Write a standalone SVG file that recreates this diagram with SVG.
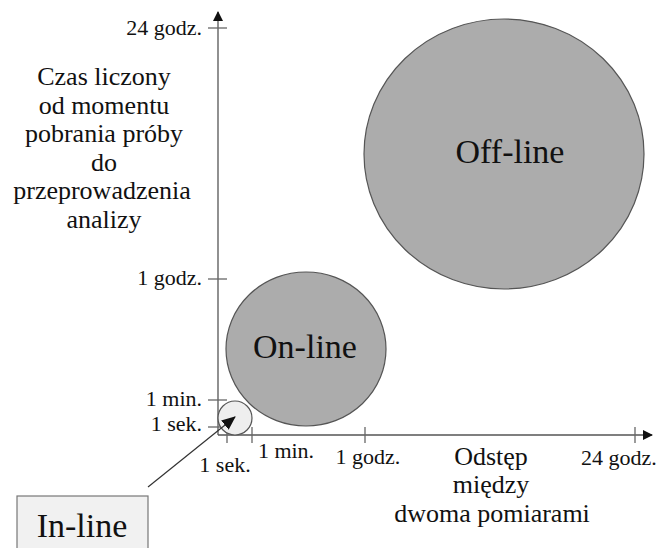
<svg xmlns="http://www.w3.org/2000/svg" width="659" height="548" viewBox="0 0 659 548">
<style>
text{font-family:"Liberation Serif","Times New Roman",serif;fill:#111}
.ax{stroke:#555;stroke-width:1.3;fill:none}
.tk{stroke:#666;stroke-width:1.3}
.lbl{font-size:22px}
.big{font-size:26px;text-anchor:middle}
.node{font-size:34px;text-anchor:middle}
.bubble{fill:#acacac;stroke:#555;stroke-width:1.2}
</style>
<defs>
<marker id="ah" markerWidth="10" markerHeight="10" refX="9" refY="5" orient="auto" markerUnits="userSpaceOnUse"><path d="M0,0 L10,5 L0,10 Z" fill="#111"/></marker>
<marker id="ptr" markerWidth="14" markerHeight="12" refX="13" refY="6" orient="auto" markerUnits="userSpaceOnUse"><path d="M0,0 L14,6 L0,12 Z" fill="#111"/></marker>
</defs>
<rect width="659" height="548" fill="#fff"/>
<g id="axes">
<line class="ax" x1="218" y1="435" x2="218" y2="12" marker-end="url(#ah)"/>
<line class="ax" x1="218" y1="435" x2="652" y2="435" marker-end="url(#ah)"/>
<line class="tk" x1="208" y1="28" x2="227" y2="28"/>
<line class="tk" x1="208" y1="279" x2="227" y2="279"/>
<line class="tk" x1="208" y1="400" x2="227" y2="400"/>
<line class="tk" x1="208" y1="427" x2="227" y2="427"/>
<line class="tk" x1="227" y1="427" x2="227" y2="443"/>
<line class="tk" x1="252" y1="427" x2="252" y2="443"/>
<line class="tk" x1="365" y1="427" x2="365" y2="443"/>
<line class="tk" x1="635" y1="427" x2="635" y2="443"/>
<g class="lbl" text-anchor="end">
<text x="202" y="35">24 godz.</text>
<text x="202" y="285">1 godz.</text>
<text x="202" y="406">1 min.</text>
<text x="202" y="431">1 sek.</text>
</g>
<g class="lbl" text-anchor="middle">
<text x="225" y="472">1 sek.</text>
<text x="286" y="458">1 min.</text>
<text x="368" y="464">1 godz.</text>
<text x="619" y="465">24 godz.</text>
</g>
<text class="big" x="103"><tspan x="104" y="85">Czas liczony</tspan><tspan x="104" y="114">od momentu</tspan><tspan x="104" y="142">pobrania próby</tspan><tspan x="104" y="171">do</tspan><tspan x="102" y="199">przeprowadzenia</tspan><tspan x="104" y="228">analizy</tspan></text>
<text class="big"><tspan x="491" y="465">Odstęp</tspan><tspan x="491" y="493">między</tspan><tspan x="492" y="522">dwoma pomiarami</tspan></text>
</g>
<g id="offline">
<ellipse class="bubble" cx="504" cy="154" rx="140" ry="135"/>
<text class="node" x="510" y="163">Off-line</text>
</g>
<g id="online">
<ellipse class="bubble" cx="306" cy="349" rx="80" ry="77"/>
<text class="node" x="305" y="358">On-line</text>
</g>
<g id="inline-circle">
<circle cx="235" cy="418" r="17" fill="#eeeeee" stroke="#555" stroke-width="1.2"/>
</g>
<g id="inline">
<rect x="17" y="496" width="131" height="60" fill="#f1f1f1" stroke="#777" stroke-width="1.2"/>
<text class="node" x="82" y="537">In-line</text>
</g>
<g id="connectors">
<line x1="148" y1="487" x2="235" y2="417" stroke="#333" stroke-width="1.2" marker-end="url(#ptr)"/>
</g>
</svg>
